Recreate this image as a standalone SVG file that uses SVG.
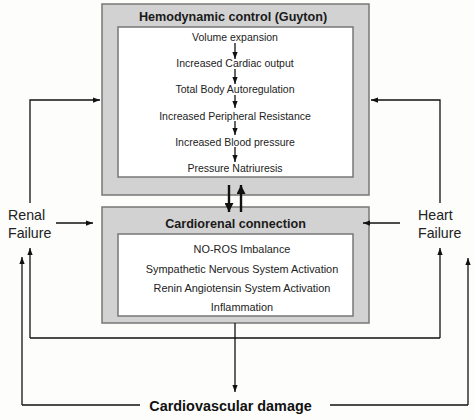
<svg xmlns="http://www.w3.org/2000/svg" width="474" height="420" viewBox="0 0 474 420">
<defs>
<marker id="ah" viewBox="0 0 8 6" refX="8" refY="3" markerWidth="7" markerHeight="5.5" markerUnits="userSpaceOnUse" orient="auto"><path d="M0,0 L8,3 L0,6 z" fill="#111"/></marker>
<marker id="ahb" viewBox="0 0 8 8" refX="8" refY="4" markerWidth="9" markerHeight="9" markerUnits="userSpaceOnUse" orient="auto"><path d="M0,0 L8,4 L0,8 z" fill="#111"/></marker>
<style>
.outer{fill:#d2d2d2;stroke:#777;stroke-width:1.5}
.inner{fill:#fff;stroke:#777;stroke-width:1.5}
.title{font-family:"Liberation Sans",Arial,sans-serif;font-weight:bold;font-size:12.6px;fill:#1a1a1a;text-anchor:middle}
.item{font-family:"Liberation Sans",Arial,sans-serif;font-size:10.5px;fill:#222;text-anchor:middle}
.item2{font-family:"Liberation Sans",Arial,sans-serif;font-size:10.9px;fill:#222;text-anchor:middle}
.side{font-family:"Liberation Sans",Arial,sans-serif;font-size:14.2px;fill:#222}
.big{font-family:"Liberation Sans",Arial,sans-serif;font-weight:bold;font-size:14.4px;fill:#111;text-anchor:middle}
.ln{fill:none;stroke:#111;stroke-width:1.3}
.arr{fill:none;stroke:#111;stroke-width:1.3;marker-end:url(#ah)}
.thick{fill:none;stroke:#111;stroke-width:2.4;marker-end:url(#ahb)}
</style>
</defs>
<rect width="474" height="420" fill="#fdfdfb"/>
<g id="hemodynamic">
<rect class="outer" x="102" y="4" width="267" height="191"/>
<rect class="inner" x="118" y="27" width="235" height="150"/>
<text class="title" x="233" y="21">Hemodynamic control (Guyton)</text>
<text class="item" x="235" y="41">Volume expansion</text>
<text class="item" x="235" y="67">Increased Cardiac output</text>
<text class="item" x="235" y="93">Total Body Autoregulation</text>
<text class="item" x="235" y="119.5">Increased Peripheral Resistance</text>
<text class="item" x="235" y="145.5">Increased Blood pressure</text>
<text class="item" x="235" y="171.5">Pressure Natriuresis</text>
<path class="arr" d="M235,43 V59"/>
<path class="arr" d="M235,69 V84"/>
<path class="arr" d="M235,95 V108"/>
<path class="arr" d="M235,121 V135"/>
<path class="arr" d="M235,147 V162"/>
</g>
<g id="cardiorenal">
<rect class="outer" x="102" y="207" width="267" height="116"/>
<rect class="inner" x="118" y="234" width="235" height="82"/>
<text class="title" x="235.5" y="228">Cardiorenal connection</text>
<text class="item2" x="242" y="253">NO-ROS Imbalance</text>
<text class="item2" x="242" y="272.5">Sympathetic Nervous System Activation</text>
<text class="item2" x="242" y="292">Renin Angiotensin System Activation</text>
<text class="item2" x="242" y="311">Inflammation</text>
</g>
<g id="renal">
<text class="side" x="8" y="220">Renal</text>
<text class="side" x="8" y="238">Failure</text>
</g>
<g id="heart">
<text class="side" x="418" y="220">Heart</text>
<text class="side" x="418" y="238">Failure</text>
</g>
<g id="cvdamage">
<text class="big" x="230.5" y="411">Cardiovascular damage</text>
</g>
<g id="connectors">
<path class="thick" d="M229,185 V212"/>
<path class="thick" d="M241,212 V185"/>
<path class="arr" d="M30,203 V100 H100"/>
<path class="arr" d="M56,223 H93"/>
<path class="arr" d="M440,203 V100 H371"/>
<path class="arr" d="M400,223 H363"/>
<path class="ln" d="M30,338 H440"/>
<path class="arr" d="M30,338 V248"/>
<path class="arr" d="M440,338 V248"/>
<path class="ln" d="M22,405 H140 M330,405 H468"/>
<path class="arr" d="M22,405 V257"/>
<path class="arr" d="M468,405 V258"/>
<path class="arr" d="M235,323 V392"/>
</g>
</svg>
